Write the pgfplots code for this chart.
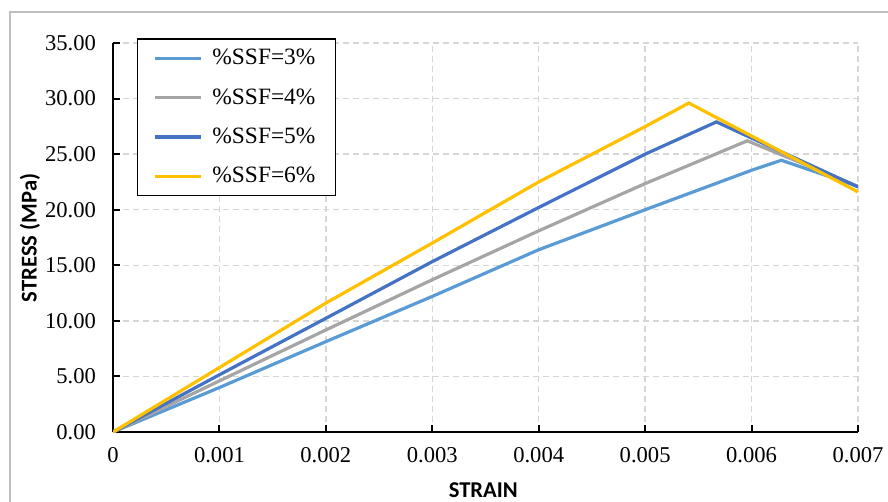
\documentclass[border=0pt]{standalone}
\usepackage{fontspec}
\setmainfont{Liberation Serif}
\usepackage{pgfplots}
\pgfplotsset{compat=1.18}
\newfontfamily\carlitofont{Carlito}
\definecolor{cA}{HTML}{5B9BD5}
\definecolor{cB}{HTML}{A5A5A5}
\definecolor{cC}{HTML}{4472C4}
\definecolor{cD}{HTML}{FFC000}
\begin{document}
\begin{tikzpicture}
\useasboundingbox (0,0) rectangle (444pt,-251pt);
\draw[color=black!25, line width=0.6pt] (5pt,-251pt) -- (5pt,-6pt) -- (444pt,-6pt);
\begin{axis}[
  at={(56.5pt,-216pt)}, anchor=south west,
  scale only axis, width=372.5pt, height=194.5pt,
  xmin=0, xmax=0.007, ymin=0, ymax=35,
  xtick={0,0.001,0.002,0.003,0.004,0.005,0.006,0.007},
  ytick={0,5,10,15,20,25,30,35},
  scaled x ticks=false,
  axis x line=bottom, axis y line=left,
  axis line style={line width=1.3pt, -},
  tick style={black, line width=1pt},
  major tick length=3.5pt, tick align=inside,
  grid=major,
  major grid style={dash pattern=on 3pt off 2pt, color=black!16, line width=0.7pt},
  /pgf/number format/assume math mode=true,
  every tick label/.append style={font=\rmfamily\fontsize{11.3}{13}\selectfont},
  xticklabel style={/pgf/number format/fixed, /pgf/number format/precision=3, yshift=-4pt},
  yticklabel style={/pgf/number format/fixed, /pgf/number format/fixed zerofill, /pgf/number format/precision=2, xshift=-5pt},
  xlabel={\carlitofont\bfseries\fontsize{11.3}{13}\selectfont STRAIN},
  ylabel={\carlitofont\bfseries\fontsize{11.3}{13}\selectfont STRESS (MPa)},
  xlabel style={at={(axis description cs:0.497,0)}, anchor=center, yshift=-29pt},
  ylabel style={at={(axis description cs:0,0.499)}, anchor=center, yshift=41.5pt},
  legend style={at={(0.0318,1.012)}, anchor=north west, draw=black, line width=0.6pt,
    inner xsep=8pt, inner ysep=3.2pt, row sep=6.3pt,
    font=\rmfamily\fontsize{11.7}{13.5}\selectfont},
  legend cell align=left,
  legend image code/.code={\draw[#1, line width=1.6pt] (0pt,0pt) -- (23pt,0pt); \path (26pt,0pt);},
  every axis plot/.append style={line width=1.6pt},
]
\addplot[cA] coordinates {(0,0)(0.001,4.0)(0.002,8.13)(0.003,12.2)(0.004,16.4)(0.005,20.0)(0.006,23.55)(0.00628,24.45)(0.007,22.1)};
\addlegendentry{\%SSF=3\%}
\addplot[cB] coordinates {(0,0)(0.001,4.6)(0.002,9.18)(0.003,13.7)(0.004,18.1)(0.005,22.35)(0.00596,26.2)(0.007,22.1)};
\addlegendentry{\%SSF=4\%}
\addplot[cC] coordinates {(0,0)(0.001,5.15)(0.002,10.23)(0.003,15.33)(0.004,20.2)(0.005,25.0)(0.00567,27.9)(0.007,22.05)};
\addlegendentry{\%SSF=5\%}
\addplot[cD] coordinates {(0,0)(0.001,5.8)(0.002,11.6)(0.003,17.0)(0.004,22.5)(0.005,27.48)(0.00541,29.6)(0.007,21.6)};
\addlegendentry{\%SSF=6\%}
\end{axis}
\end{tikzpicture}
\end{document}
